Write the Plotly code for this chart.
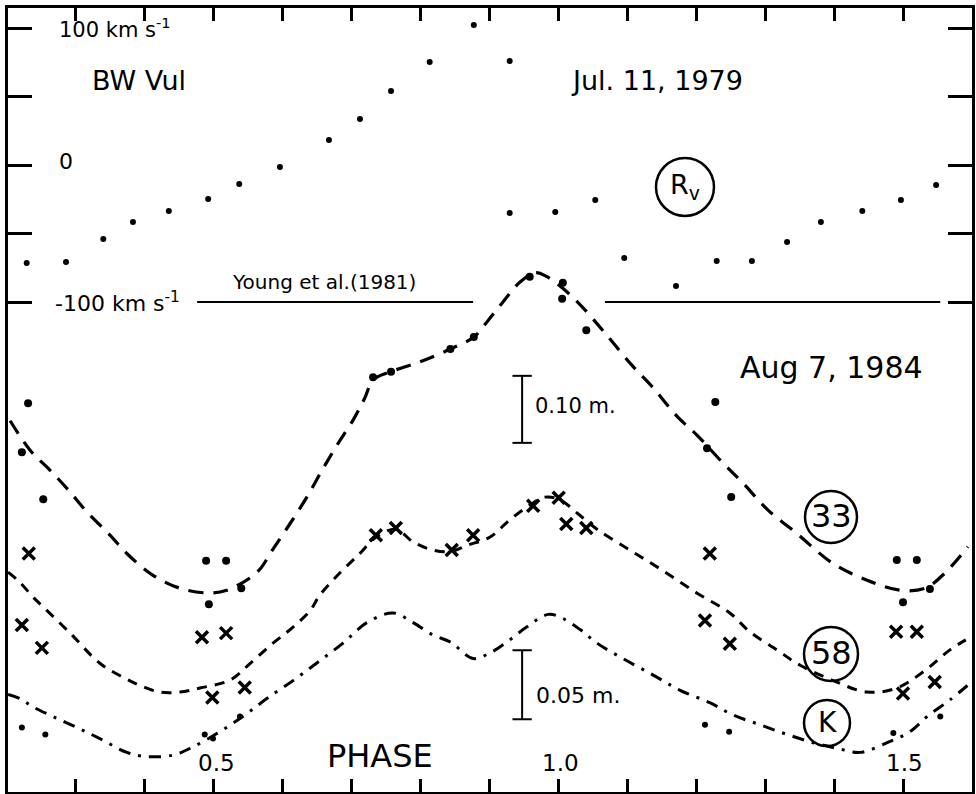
import plotly.graph_objects as go

# ---------------- data ----------------
# Radial velocity (Jul. 11, 1979), km/s
RV_PHASE = [0.230, 0.287, 0.341, 0.384, 0.436, 0.493, 0.538, 0.597, 0.668, 0.713,
            0.758, 0.814, 0.878, 0.930, 0.930, 0.996, 1.054, 1.096, 1.171, 1.230,
            1.281, 1.332, 1.381, 1.441, 1.497, 1.548]
RV_KMS = [-71.5, -70.8, -54.0, -41.6, -33.6, -24.8, -13.9, -1.5, 18.2, 33.6,
          54.0, 75.2, 102.2, 75.9, -35.0, -34.3, -25.5, -67.9, -88.3, -70.1,
          -70.1, -56.2, -41.6, -33.6, -25.5, -14.6]

# Young et al. (1981) reference level, km/s (two segments)
YOUNG_PHASE = [0.477, 0.877, None, 1.068, 1.554]
YOUNG_KMS = [-100, -100, None, -100, -100]

# Aug 7, 1984 photometry -- channel 33 (dots), delta mag
PH33 = [0.232, 0.223, 0.254, 0.490, 0.519, 0.541, 0.494, 0.732, 0.758, 0.844,
        0.878, 0.959, 1.007, 1.006, 1.041, 1.228, 1.216, 1.251, 1.491, 1.520,
        1.539, 1.500]
DM33 = [0.196, 0.269, 0.339, 0.431, 0.431, 0.472, 0.496, 0.157, 0.149, 0.115,
        0.097, 0.007, 0.016, 0.040, 0.087, 0.194, 0.263, 0.336, 0.430, 0.430,
        0.473, 0.493]
FIT33_PH = [0.206, 0.235, 0.264, 0.290, 0.319, 0.351, 0.377, 0.412, 0.452, 0.493,
            0.520, 0.564, 0.586, 0.612, 0.636, 0.658, 0.680, 0.703, 0.720, 0.732,
            0.757, 0.800, 0.844, 0.878, 0.899, 0.920, 0.945, 0.967, 0.984, 1.010,
            1.035, 1.068, 1.107, 1.138, 1.173, 1.201, 1.239, 1.268, 1.304, 1.346,
            1.397, 1.448, 1.496, 1.532, 1.561, 1.594]
FIT33_DM = [0.222, 0.266, 0.296, 0.325, 0.360, 0.393, 0.422, 0.452, 0.472, 0.479,
            0.475, 0.448, 0.415, 0.375, 0.336, 0.296, 0.258, 0.221, 0.188, 0.161,
            0.149, 0.134, 0.115, 0.097, 0.072, 0.045, 0.015, 0.001, 0.007, 0.027,
            0.052, 0.091, 0.139, 0.173, 0.216, 0.243, 0.285, 0.315, 0.355, 0.390,
            0.434, 0.460, 0.475, 0.472, 0.449, 0.410]

# channel 58 (crosses), delta mag
PH58 = [0.233, 0.223, 0.252, 0.484, 0.519, 0.499, 0.546, 0.736, 0.765, 0.846,
        0.877, 0.964, 1.001, 1.012, 1.041, 1.220, 1.213, 1.249, 1.490, 1.520,
        1.500, 1.546]
DM58 = [0.084, 0.191, 0.225, 0.209, 0.203, 0.299, 0.284, 0.057, 0.046, 0.079,
        0.057, 0.013, 0.001, 0.040, 0.046, 0.084, 0.184, 0.219, 0.201, 0.201,
        0.293, 0.276]
FIT58_PH = [0.203, 0.220, 0.239, 0.254, 0.293, 0.336, 0.370, 0.394, 0.423, 0.452,
            0.481, 0.525, 0.554, 0.587, 0.616, 0.641, 0.655, 0.684, 0.713, 0.736,
            0.765, 0.790, 0.819, 0.846, 0.868, 0.901, 0.930, 0.959, 0.981, 1.003,
            1.028, 1.058, 1.104, 1.151, 1.201, 1.249, 1.278, 1.317, 1.351, 1.397,
            1.448, 1.491, 1.529, 1.568, 1.591]
FIT58_DM = [0.112, 0.127, 0.149, 0.164, 0.203, 0.248, 0.269, 0.281, 0.291, 0.291,
            0.285, 0.273, 0.248, 0.218, 0.194, 0.169, 0.146, 0.113, 0.084, 0.060,
            0.048, 0.067, 0.079, 0.081, 0.072, 0.060, 0.034, 0.012, 0.000, 0.004,
            0.024, 0.049, 0.079, 0.109, 0.143, 0.173, 0.201, 0.228, 0.251, 0.273,
            0.291, 0.285, 0.261, 0.228, 0.213]

# K band (dots, dash-dot fit), delta mag
PHK = [0.223, 0.257, 0.488, 0.500, 0.539, 1.213, 1.248, 1.486, 1.554]
DMK = [0.083, 0.088, 0.088, 0.091, 0.075, 0.081, 0.086, 0.087, 0.075]
FITK_PH = [0.203, 0.220, 0.239, 0.268, 0.303, 0.336, 0.375, 0.404, 0.442, 0.471,
           0.510, 0.546, 0.578, 0.616, 0.651, 0.688, 0.723, 0.761, 0.790, 0.819,
           0.844, 0.877, 0.901, 0.926, 0.955, 0.986, 1.007, 1.032, 1.057, 1.094,
           1.138, 1.177, 1.220, 1.254, 1.293, 1.332, 1.370, 1.404, 1.438, 1.477,
           1.510, 1.535, 1.568, 1.597]
FITK_DM = [0.059, 0.062, 0.068, 0.075, 0.083, 0.091, 0.101, 0.104, 0.103, 0.097,
           0.086, 0.074, 0.062, 0.049, 0.036, 0.022, 0.007, 0.000, 0.007, 0.016,
           0.021, 0.033, 0.029, 0.021, 0.010, 0.001, 0.004, 0.012, 0.022, 0.033,
           0.045, 0.056, 0.065, 0.074, 0.081, 0.088, 0.094, 0.098, 0.101, 0.094,
           0.086, 0.075, 0.063, 0.051]

OFFSET_58 = 0.336          # vertical offset of the 58 curve (mag, on the 33/58 axis)
SCALE_BAR_33 = 0.10        # mag
SCALE_BAR_K = 0.05         # mag

# ---------------- layout helpers ----------------
W, H = 976, 794
L, R, T, B = 8, 4, 8, 2
PW, PH_ = W - L - R, H - T - B
FONT = "DejaVu Sans"


def P(px, py):
    return (px - L) / PW, (H - B - py) / PH_


fig = go.Figure()

# velocity
fig.add_trace(go.Scatter(x=RV_PHASE, y=RV_KMS, mode="markers",
                         marker=dict(color="black", size=6), yaxis="y"))
fig.add_trace(go.Scatter(x=YOUNG_PHASE, y=YOUNG_KMS, mode="lines",
                         line=dict(color="black", width=2), yaxis="y"))

# 33
fig.add_trace(go.Scatter(x=FIT33_PH, y=FIT33_DM, mode="lines", yaxis="y2",
                         line=dict(color="black", width=3.2, dash="15px,10px",
                                   shape="spline", smoothing=1.0)))
fig.add_trace(go.Scatter(x=PH33, y=DM33, mode="markers", yaxis="y2",
                         marker=dict(color="black", size=8)))
# 58
fig.add_trace(go.Scatter(x=FIT58_PH, y=[v + OFFSET_58 for v in FIT58_DM], mode="lines",
                         yaxis="y2",
                         line=dict(color="black", width=3, dash="10px,8px",
                                   shape="spline", smoothing=1.0)))
fig.add_trace(go.Scatter(x=PH58, y=[v + OFFSET_58 for v in DM58], mode="markers",
                         yaxis="y2",
                         marker=dict(symbol="x-thin", size=12, color="black",
                                     line=dict(color="black", width=3.5))))
# K
fig.add_trace(go.Scatter(x=FITK_PH, y=FITK_DM, mode="lines", yaxis="y3",
                         line=dict(color="black", width=3, dash="12px,8px,3px,8px",
                                   shape="spline", smoothing=1.0)))
fig.add_trace(go.Scatter(x=PHK, y=DMK, mode="markers", yaxis="y3",
                         marker=dict(color="black", size=6)))

# scale bars
bar_x = 0.948
cap = 0.014
b33_top = 0.155
bk_top = 0.027
for yref, top, size in (("y2", b33_top, SCALE_BAR_33), ("y3", bk_top, SCALE_BAR_K)):
    fig.add_shape(type="line", xref="x", yref=yref, x0=bar_x, x1=bar_x,
                  y0=top, y1=top + size, line=dict(color="black", width=2))
    for yy in (top, top + size):
        fig.add_shape(type="line", xref="x", yref=yref, x0=bar_x - cap, x1=bar_x + cap,
                      y0=yy, y1=yy, line=dict(color="black", width=2))

# circled labels
for (cx, cy, r) in ((685, 187, 29), (831, 517, 26), (831, 654, 27), (827, 723, 23)):
    x0, y0 = P(cx - r, cy + r)
    x1, y1 = P(cx + r, cy - r)
    fig.add_shape(type="circle", xref="paper", yref="paper", x0=x0, y0=y0, x1=x1, y1=y1,
                  line=dict(color="black", width=2.5))

texts = [
    ("100 km s<sup>-1</sup>", 115, 28, 21),
    ("BW Vul", 139, 80, 27),
    ("0", 66, 161, 22),
    ("Jul. 11, 1979", 657, 80, 27),
    ("-100 km s<sup>-1</sup>", 117, 302, 22),
    ("Young et al.(1981)", 324, 282, 20),
    ("Aug 7, 1984", 831, 367, 30),
    ("0.10 m.", 575, 406, 21),
    ("0.05 m.", 578, 695, 22),
    ("0.5", 216, 763, 23),
    ("PHASE", 380, 756, 32),
    ("1.0", 560, 763, 23),
    ("1.5", 904, 763, 23),
    ("R<sub>v</sub>", 685, 186, 27),
    ("33", 831, 516, 32),
    ("58", 831, 653, 32),
    ("K", 827, 722, 28),
]
for txt, px, py, fs in texts:
    xp, yp = P(px, py)
    fig.add_annotation(text=txt, x=xp, y=yp, xref="paper", yref="paper",
                       showarrow=False, xanchor="center", yanchor="middle",
                       font=dict(family=FONT, size=fs, color="black"))

# axes: velocity scale 137 px per 100 km/s, zero at y=165 px
v_top = (165 - T) / 1.37
v_bot = (165 - (H - B)) / 1.37
m33_top = (T - 272) / 670
m33_bot = (H - B - 272) / 670
mk_top = (T - 613) / 1380
mk_bot = (H - B - 613) / 1380

fig.update_layout(
    width=W, height=H,
    margin=dict(l=L, r=R, t=T, b=B),
    paper_bgcolor="white", plot_bgcolor="white",
    showlegend=False,
    hovermode=False,
    xaxis=dict(range=[0.2029, 1.6], tickmode="array",
               tickvals=[0.3, 0.4, 0.5, 0.6, 0.7, 0.8, 0.9, 1.0, 1.1, 1.2, 1.3, 1.4, 1.5],
               showticklabels=False, ticks="inside", ticklen=13, tickwidth=3,
               tickcolor="black", showline=True, linewidth=3, linecolor="black",
               mirror="ticks", showgrid=False, zeroline=False),
    yaxis=dict(range=[v_bot, v_top], tickmode="array",
               tickvals=[-100, -50, 0, 50, 100], showticklabels=False,
               ticks="inside", ticklen=24, tickwidth=3, tickcolor="black",
               showline=True, linewidth=3, linecolor="black", mirror="ticks",
               showgrid=False, zeroline=False),
    yaxis2=dict(range=[m33_bot, m33_top], overlaying="y", visible=False),
    yaxis3=dict(range=[mk_bot, mk_top], overlaying="y", visible=False),
)

fig.write_html("out.html",
               config={"displayModeBar": False, "staticPlot": True},
               post_script="document.body.style.margin='0px';"
                           "document.body.style.overflow='hidden';")
